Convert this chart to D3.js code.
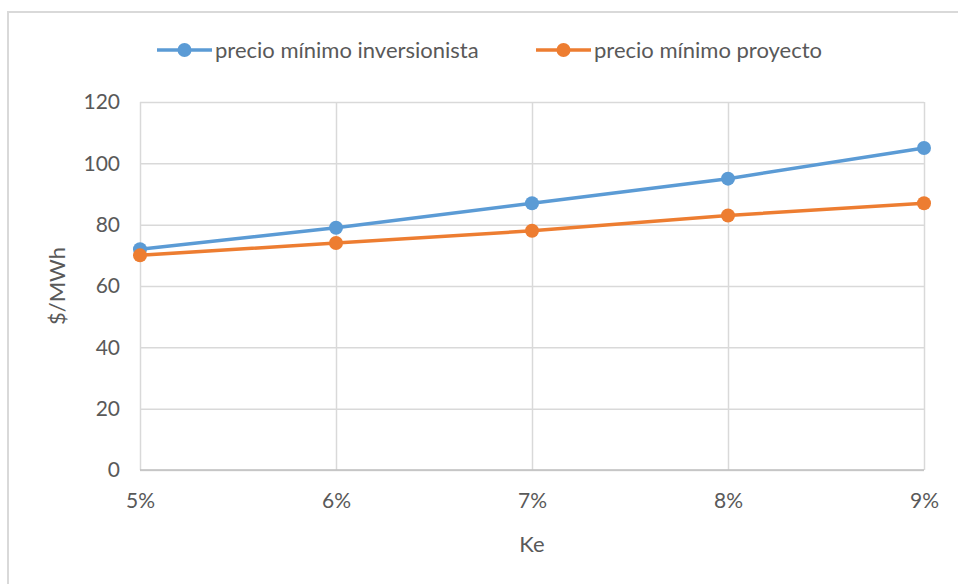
<!DOCTYPE html>
<html>
<head>
<meta charset="utf-8">
<script src="https://cdn.jsdelivr.net/npm/d3@7"></script>
<style>
  body { margin: 0; background: #fff; }
  svg { display: block; font-family: Lato, "Open Sans", sans-serif; }
</style>
</head>
<body>
<div id="chart"></div>
<script>
// data
const categories = ["5%", "6%", "7%", "8%", "9%"];
const inversionista = [72, 79, 87, 95, 105];
const proyecto = [70, 74, 78, 83, 87];
const yTicks = [0, 20, 40, 60, 80, 100, 120];
const seriesNames = ["precio mínimo inversionista", "precio mínimo proyecto"];

const colors = {
    blue: "#5b9bd5",
    orange: "#ed7d31",
    grid: "#d9d9d9",
    text: "#595959",
}

const width = 958;
const height = 584;
const margins = { top: 102, right: 34, bottom: 114, left: 140 };

const svg = d3.select("#chart")
    .append("svg")
    .attr("width", width)
    .attr("height", height);

// outer chart frame
svg.append("rect")
    .attr("x", 8)
    .attr("y", 12)
    .attr("width", width + 10)
    .attr("height", height + 10)
    .attr("fill", "none")
    .attr("stroke", colors.grid)
    .attr("stroke-width", 2);

const x = d3.scalePoint()
    .domain(categories)
    .range([margins.left, width - margins.right]);
const y = d3.scaleLinear()
    .domain([0, 120])
    .range([height - margins.bottom, margins.top]);

// horizontal grid
svg.append("g")
    .attr("transform", `translate(${margins.left},0)`)
    .call(d3.axisLeft(y).tickValues(yTicks)
        .tickSize(-(width - margins.right - margins.left)).tickFormat(""))
    .call(g => g.select(".domain").remove())
    .selectAll("line")
    .attr("stroke", colors.grid)
    .attr("stroke-width", 1.5);

// vertical grid
svg.append("g")
    .attr("transform", `translate(0,${margins.top})`)
    .call(d3.axisBottom(x).tickSize(height - margins.bottom - margins.top).tickFormat(""))
    .call(g => g.select(".domain").remove())
    .selectAll("line")
    .attr("stroke", colors.grid)
    .attr("stroke-width", 1.5);

// bottom axis line (a touch darker)
svg.append("line")
    .attr("x1", margins.left).attr("x2", width - margins.right)
    .attr("y1", y(0)).attr("y2", y(0))
    .attr("stroke", "#bfbfbf")
    .attr("stroke-width", 1.5);

// y tick labels
svg.append("g")
    .attr("transform", `translate(${margins.left},0)`)
    .call(d3.axisLeft(y).tickValues(yTicks).tickSize(0).tickPadding(20))
    .call(g => g.select(".domain").remove())
    .selectAll("text")
    .attr("fill", colors.text)
    .attr("font-size", 21)
    .attr("font-family", "Lato, sans-serif");

// x tick labels
svg.append("g")
    .attr("transform", `translate(0,${y(0)})`)
    .call(d3.axisBottom(x).tickSize(0).tickPadding(23))
    .call(g => g.select(".domain").remove())
    .selectAll("text")
    .attr("fill", colors.text)
    .attr("font-size", 21)
    .attr("font-family", "Lato, sans-serif");

// axis titles
svg.append("text")
    .attr("x", (margins.left + width - margins.right) / 2)
    .attr("y", 552)
    .attr("text-anchor", "middle")
    .attr("fill", colors.text)
    .attr("font-size", 22)
    .text("Ke");

svg.append("text")
    .attr("transform", `translate(65,${(margins.top + y(0)) / 2}) rotate(-90)`)
    .attr("text-anchor", "middle")
    .attr("fill", colors.text)
    .attr("font-size", 22)
    .text("$/MWh");

const line = d3.line()
    .x((d, i) => x(categories[i]))
    .y(d => y(d));

const series = [
    { name: seriesNames[0], values: inversionista, color: colors.blue },
    { name: seriesNames[1], values: proyecto, color: colors.orange },
];

series.forEach(s => {
    svg.append("path")
        .attr("d", line(s.values))
        .attr("fill", "none")
        .attr("stroke", s.color)
        .attr("stroke-width", 3.5)
        .attr("stroke-linejoin", "round");
    svg.append("g").selectAll("circle")
        .data(s.values)
        .join("circle")
        .attr("cx", (d, i) => x(categories[i]))
        .attr("cy", d => y(d))
        .attr("r", 7)
        .attr("fill", s.color);
});

// legend
const legendX = [157, 536];
const legend = svg.append("g").selectAll("g")
    .data(series)
    .join("g")
    .attr("transform", (d, i) => `translate(${legendX[i]},50)`);
legend.append("line")
    .attr("x1", 0).attr("x2", 55)
    .attr("stroke", d => d.color)
    .attr("stroke-width", 3.5);
legend.append("circle")
    .attr("cx", 27.5)
    .attr("r", 7)
    .attr("fill", d => d.color);
legend.append("text")
    .attr("x", 58)
    .attr("y", 7.5)
    .attr("fill", colors.text)
    .attr("font-size", 22)
    .text(d => d.name);
</script>
</body>
</html>
